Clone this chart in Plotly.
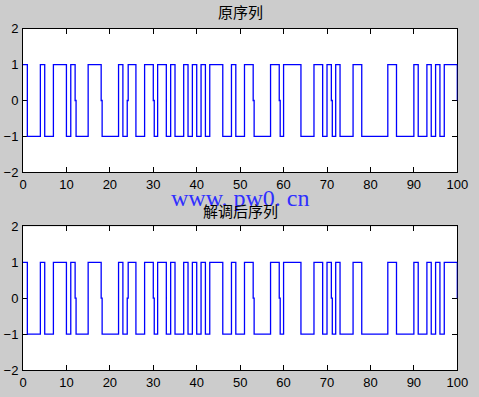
import plotly.graph_objects as go

# Bit values on each unit interval [k, k+1), k = 0..99 (original sequence)
bits_orig = [1, -1, -1, -1, 1, -1, -1, 1, 1, 1,
             -1, 1, -1, -1, -1, 1, 1, 1, -1, -1,
             -1, -1, 1, -1, 1, 1, -1, -1, 1, 1,
             -1, 1, 1, -1, 1, -1, -1, 1, -1, 1,
             -1, 1, -1, 1, 1, 1, -1, -1, 1, -1,
             -1, 1, 1, -1, -1, -1, -1, 1, 1, -1,
             1, 1, 1, 1, -1, -1, -1, 1, 1, -1,
             1, -1, 1, -1, -1, -1, 1, 1, -1, -1,
             -1, -1, -1, -1, 1, 1, -1, -1, -1, -1,
             1, -1, -1, 1, -1, 1, -1, 1, 1, 1]
# Demodulated sequence (identical to the original in the picture)
bits_demod = list(bits_orig)
# Sample positions where the plotted signal passes through 0
zero_points = [12, 18, 24, 30, 53, 59, 71, 100]

titles = ["原序列", "解调后序列"]
x_ticks = [0, 10, 20, 30, 40, 50, 60, 70, 80, 90, 100]
y_ticks = [-2, -1, 0, 1, 2]


def build(bits, zeros, d=0.22):
    xs, ys = [0], [bits[0]]
    for k in range(1, len(bits)):
        if bits[k] != bits[k - 1]:
            if k in zeros:
                xs += [k, k, k + d, k + d]
                ys += [bits[k - 1], 0, 0, bits[k]]
            else:
                xs += [k, k]
                ys += [bits[k - 1], bits[k]]
    n = len(bits)
    xs.append(n)
    ys.append(bits[-1])
    if n in zeros:
        xs.append(n)
        ys.append(0)
    return xs, ys


fig = go.Figure()
W, H = 479, 397
x_dom = [23 / W, 457.3 / W]
y_doms = [[(H - 172.3) / H, (H - 28.7) / H], [(H - 370.0) / H, (H - 226.4) / H]]

for i, bits in enumerate([bits_orig, bits_demod]):
    xs, ys = build(bits, zero_points)
    suffix = "" if i == 0 else "2"
    fig.add_trace(go.Scatter(x=xs, y=ys, mode="lines",
                             line=dict(color="#0000ff", width=1.3),
                             xaxis="x" + suffix, yaxis="y" + suffix,
                             showlegend=False, hoverinfo="skip"))
    axcommon = dict(showline=True, linecolor="black", linewidth=1, mirror="ticks",
                    ticks="inside", ticklen=5, tickcolor="black", tickwidth=1,
                    showgrid=False, zeroline=False, automargin=False,
                    layer="below traces",
                    tickfont=dict(family="Liberation Sans", size=13, color="black"))
    fig.update_layout(**{
        "xaxis" + suffix: dict(domain=x_dom, range=[0, 100], tickvals=x_ticks,
                               anchor="y" + suffix, ticklabelstandoff=0, **axcommon),
        "yaxis" + suffix: dict(domain=y_doms[i], range=[-2, 2], tickvals=y_ticks,
                               anchor="x" + suffix, ticklabelstandoff=1, **axcommon),
    })

# watermark (drawn first so the second title sits on top of it)
fig.add_annotation(text="www. pw0. cn", xref="paper", yref="paper",
                   x=240 / W, y=1 - 198 / H, yanchor="middle", showarrow=False,
                   font=dict(family="Liberation Serif", size=24, color="#3030ff"))
for title, yc in zip(titles, [12, 210]):
    fig.add_annotation(text=title, xref="paper", yref="paper",
                       x=240 / W, y=1 - yc / H, yanchor="middle", showarrow=False,
                       font=dict(family="Noto Sans CJK SC", size=15, color="black"))

fig.update_layout(width=W, height=H, margin=dict(l=0, r=0, t=0, b=0),
                  paper_bgcolor="#cccccc", plot_bgcolor="white")
fig.write_html("out.html")
